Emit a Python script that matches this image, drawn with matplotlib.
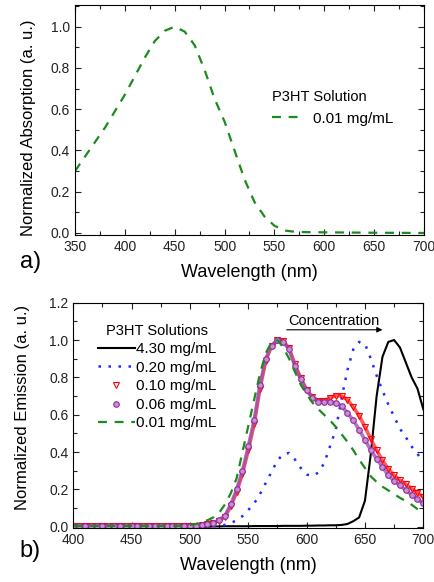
import matplotlib.pyplot as plt
from matplotlib.ticker import MultipleLocator

plt.rcParams['font.family'] = ['Liberation Sans', 'DejaVu Sans']

# a) absorcao, solucao 0.01 mg/mL
abs_nm = [350, 360, 370, 380, 390, 400, 410, 420, 430, 440, 450, 460, 470, 480,
          490, 500, 510, 520, 530, 540, 550, 560, 570, 580, 600, 650, 700]
abs_val = [0.30, 0.37, 0.44, 0.51, 0.59, 0.67, 0.76, 0.85, 0.93, 0.98, 1.00, 0.976,
           0.91, 0.79, 0.65, 0.54, 0.40, 0.26, 0.15, 0.08, 0.035, 0.012, 0.006,
           0.004, 0.003, 0.001, 0.0]

# b) emissao, passo de 5 nm de 400 a 700 (linhas de 10 pontos: 400, 450, 500, ...)
em_nm = list(range(400, 705, 5))

em_430 = [0, 0, 0, 0, 0, 0, 0, 0, 0, 0,
          0, 0, 0, 0, 0, 0, 0, 0, 0, 0,
          0, 0, 0, 0, 0.002, 0.002, 0.003, 0.003, 0.003, 0.003,
          0.003, 0.004, 0.004, 0.004, 0.004, 0.004, 0.005, 0.005, 0.005, 0.005,
          0.006, 0.006, 0.007, 0.007, 0.008, 0.008, 0.01, 0.015, 0.03, 0.05,
          0.14, 0.39, 0.70, 0.91, 0.99, 1.00, 0.96, 0.88, 0.80, 0.74,
          0.63]

em_020 = [0, 0, 0, 0, 0, 0, 0, 0, 0, 0,
          0, 0, 0, 0, 0, 0, 0, 0, 0, 0,
          0, 0, 0, 0, 0.003, 0.006, 0.01, 0.02, 0.035, 0.057,
          0.09, 0.125, 0.175, 0.235, 0.295, 0.355, 0.39, 0.395, 0.36, 0.315,
          0.28, 0.272, 0.29, 0.34, 0.43, 0.52, 0.69, 0.84, 0.95, 0.99,
          0.98, 0.90, 0.81, 0.73, 0.655, 0.59, 0.525, 0.48, 0.43, 0.39,
          0.35]

em_010 = [0.003, 0.003, 0.003, 0.003, 0.003, 0.003, 0.003, 0.003, 0.003, 0.003,
          0.003, 0.003, 0.003, 0.003, 0.003, 0.003, 0.003, 0.003, 0.003, 0.003,
          0.004, 0.006, 0.01, 0.015, 0.022, 0.032, 0.055, 0.11, 0.185, 0.285,
          0.41, 0.55, 0.74, 0.89, 0.97, 1.00, 0.995, 0.955, 0.87, 0.795,
          0.735, 0.695, 0.675, 0.675, 0.69, 0.703, 0.70, 0.68, 0.64, 0.595,
          0.535, 0.47, 0.41, 0.355, 0.31, 0.275, 0.25, 0.228, 0.205, 0.183,
          0.16]

em_006 = [0.003, 0.003, 0.003, 0.003, 0.003, 0.003, 0.003, 0.003, 0.003, 0.003,
          0.003, 0.003, 0.003, 0.003, 0.003, 0.003, 0.003, 0.003, 0.003, 0.003,
          0.004, 0.006, 0.01, 0.014, 0.022, 0.035, 0.06, 0.12, 0.20, 0.30,
          0.43, 0.57, 0.76, 0.90, 0.97, 1.00, 0.99, 0.95, 0.86, 0.79,
          0.73, 0.69, 0.67, 0.668, 0.668, 0.665, 0.645, 0.61, 0.57, 0.52,
          0.465, 0.41, 0.365, 0.32, 0.275, 0.245, 0.222, 0.195, 0.172, 0.148,
          0.125]

em_001 = [0.005, 0.005, 0.005, 0.005, 0.005, 0.005, 0.005, 0.005, 0.005, 0.005,
          0.005, 0.005, 0.005, 0.005, 0.005, 0.005, 0.005, 0.005, 0.005, 0.007,
          0.01, 0.015, 0.025, 0.035, 0.05, 0.075, 0.12, 0.18, 0.26, 0.40,
          0.54, 0.68, 0.82, 0.93, 0.99, 1.00, 0.96, 0.90, 0.83, 0.76,
          0.71, 0.665, 0.63, 0.60, 0.57, 0.535, 0.495, 0.455, 0.41, 0.36,
          0.315, 0.27, 0.24, 0.215, 0.195, 0.175, 0.155, 0.138, 0.118, 0.095,
          0.08]

verde = '#1d8a1d'
roxo = '#8e2a9e'
tracos = (0, (4, 3.5))

fig = plt.figure(figsize=(4.35, 5.82), dpi=100)
ax1 = fig.add_axes([0.1724, 0.5962, 0.8023, 0.3952])
ax2 = fig.add_axes([0.1685, 0.0923, 0.8046, 0.3876])

# painel a)
ax1.plot(abs_nm, abs_val, color=verde, lw=1.6, ls=tracos, label='0.01 mg/mL')
ax1.set_xlim(350, 700)
ax1.set_ylim(-0.01, 1.105)
ax1.xaxis.set_major_locator(MultipleLocator(50))
ax1.xaxis.set_minor_locator(MultipleLocator(25))
ax1.yaxis.set_major_locator(MultipleLocator(0.2))
ax1.yaxis.set_minor_locator(MultipleLocator(0.1))
ax1.set_xlabel('Wavelength (nm)', fontsize=13, labelpad=7)
ax1.set_ylabel('Normalized Absorption (a. u.)', fontsize=12)
ax1.yaxis.set_label_coords(-0.112, 0.465)
ax1.legend(title='P3HT Solution', loc='upper left', bbox_to_anchor=(0.525, 0.69),
           frameon=False, fontsize=11, title_fontsize=10.5, handlelength=2.1,
           handletextpad=0.6, alignment='left')

# painel b)
ax2.plot(em_nm, em_430, color='black', lw=1.5, label='4.30 mg/mL')
ax2.plot(em_nm, em_020, color='#1f2bff', lw=1.8, ls=(0, (1, 3)), label='0.20 mg/mL')
ax2.plot(em_nm, em_010, color='#ff3030', lw=2.6, alpha=0.8)
ax2.plot(em_nm, em_010, color='red', ls='none', marker='v', ms=4, mew=0.8,
         mfc='none', label='0.10 mg/mL')
ax2.plot(em_nm, em_006, color='#a050b0', lw=2.6, alpha=0.8)
ax2.plot(em_nm, em_006, color=roxo, ls='none', marker='o', ms=4, mew=0.8,
         mfc='#c890d0', label='0.06 mg/mL')
ax2.plot(em_nm, em_001, color=verde, lw=1.6, ls=tracos, label='0.01 mg/mL')
ax2.set_xlim(400, 700)
ax2.set_ylim(-0.008, 1.2)
ax2.xaxis.set_major_locator(MultipleLocator(50))
ax2.xaxis.set_minor_locator(MultipleLocator(25))
ax2.yaxis.set_major_locator(MultipleLocator(0.2))
ax2.yaxis.set_minor_locator(MultipleLocator(0.1))
ax2.set_xlabel('Wavelength (nm)', fontsize=13, labelpad=7)
ax2.set_ylabel('Normalized Emission (a. u.)', fontsize=12)
ax2.yaxis.set_label_coords(-0.125, 0.535)
ax2.legend(title='P3HT Solutions', loc='upper left', bbox_to_anchor=(0.04, 0.955),
           frameon=False, fontsize=11, title_fontsize=10.5, handlelength=2.4,
           handletextpad=0.1, labelspacing=0.3, numpoints=1, borderpad=0.2)

ax2.annotate('', xy=(665, 1.055), xytext=(583, 1.055),
             arrowprops=dict(arrowstyle='-|>', color='black', lw=0.8,
                             mutation_scale=8, shrinkA=0, shrinkB=0))
ax2.text(623, 1.062, 'Concentration', ha='center', va='bottom', fontsize=10.5)

for ax in (ax1, ax2):
    ax.tick_params(which='both', direction='in', top=True, right=True,
                   labelsize=10, width=0.8, colors='#222222')
    ax.tick_params(which='major', length=4)
    ax.tick_params(which='minor', length=3)
    for s in ax.spines.values():
        s.set_linewidth(0.8)

fig.text(0.045, 0.54, 'a)', fontsize=17)
fig.text(0.045, 0.043, 'b)', fontsize=17)

fig.savefig('out.png', dpi=100)
